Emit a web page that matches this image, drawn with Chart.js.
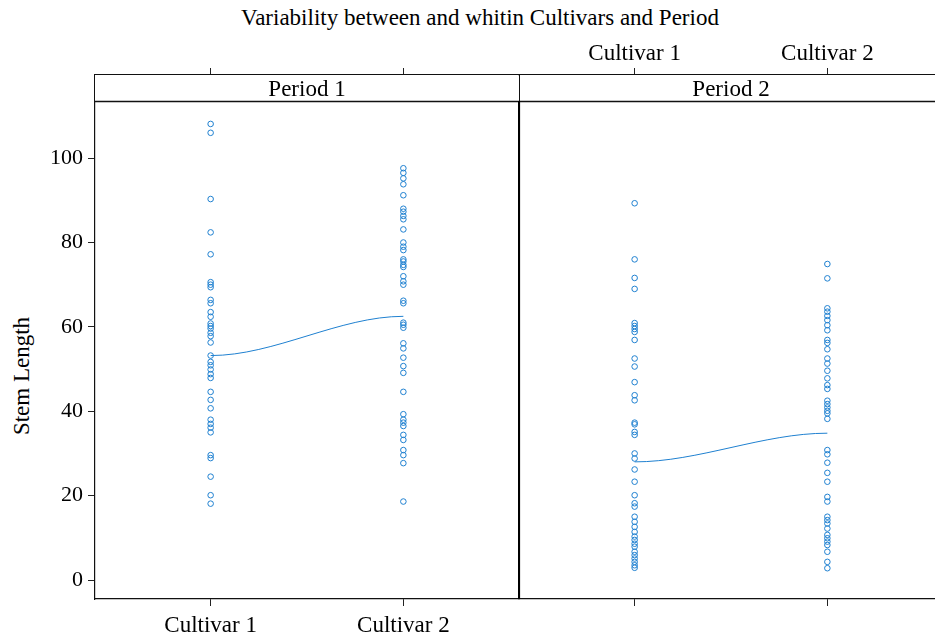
<!DOCTYPE html>
<html>
<head>
<meta charset="utf-8">
<script src="https://cdn.jsdelivr.net/npm/chart.js@4.4.1/dist/chart.umd.min.js"></script>
<style>
  body { margin: 0; overflow: hidden; background: #fff; }
  #wrap { position: relative; width: 935px; height: 636px; overflow: hidden; font-family: "Liberation Serif", serif; color: #000; }
  #title { position: absolute; left: 0; width: 960px; top: 5px; text-align: center; font-size: 23px; }
  #ylab { position: absolute; left: 22px; top: 376px; transform: translate(-50%, -50%) rotate(-90deg); font-size: 23px; white-space: nowrap; }
  #box1 { position: absolute; left: 0; top: 0; width: 520px; height: 636px; }
  #box2 { position: absolute; left: 518px; top: 0; width: 426px; height: 636px; }
</style>
</head>
<body>
<div id="wrap">
  <div id="title">Variability between and whitin Cultivars and Period</div>
  <div id="ylab">Stem Length</div>
  <div id="box1"><canvas id="panel1"></canvas></div>
  <div id="box2"><canvas id="panel2"></canvas></div>
</div>
<script>
// data
const cultivars = ['Cultivar 1', 'Cultivar 2'];
const periods = ['Period 1', 'Period 2'];
const yTicks = [0, 20, 40, 60, 80, 100];

const p1Cultivar1 = [108.1, 106.0, 90.3, 82.4, 77.2, 70.6, 70.0, 69.4, 66.4, 65.6, 63.5, 62.4, 60.8, 60.2, 59.6,
    58.6, 57.8, 56.3, 53.2, 51.7, 50.9, 49.9, 48.8, 47.9, 44.6, 42.7, 40.7, 38.0, 37.0, 36.1, 35.0, 29.6, 28.9,
    24.5, 20.1, 18.1];
const p1Cultivar2 = [97.6, 96.5, 95.2, 93.8, 91.2, 88.0, 87.3, 86.3, 85.5, 83.1, 80.0, 79.0, 78.2, 76.0, 75.5,
    74.7, 74.2, 72.0, 70.8, 70.0, 66.2, 65.6, 61.0, 60.5, 59.8, 56.1, 54.9, 52.7, 50.7, 49.1, 44.6, 39.3, 38.0,
    37.3, 36.5, 34.4, 33.2, 30.8, 29.6, 27.7, 18.6];
const p2Cultivar1 = [89.3, 76.0, 71.6, 69.0, 60.9, 60.2, 59.5, 58.8, 56.9, 52.5, 50.6, 46.9, 43.8, 42.6, 37.3,
    36.9, 35.1, 34.4, 30.0, 28.8, 26.2, 23.3, 20.1, 18.2, 17.4, 15.0, 13.8, 12.6, 11.4, 10.3, 9.5, 8.6, 7.9, 6.7,
    5.9, 5.1, 4.3, 3.5, 2.9];
const p2Cultivar2 = [74.9, 71.5, 64.4, 63.6, 62.6, 61.6, 60.4, 59.2, 56.9, 56.2, 54.7, 52.5, 51.3, 49.6, 47.8,
    46.2, 45.3, 42.5, 41.7, 40.9, 40.1, 39.5, 38.2, 30.8, 29.8, 27.8, 25.4, 23.3, 19.7, 18.6, 15.0, 14.2, 13.4,
    12.2, 10.7, 9.9, 9.1, 8.3, 6.7, 4.3, 2.8];

// smoothed level per cultivar (ends of the blue curve)
const p1Means = [53.2, 62.5];
const p2Means = [28.0, 34.8];

const blue = '#1f80d0';
const font = { family: '"Liberation Serif", serif', size: 23 };
const tickFont = { family: '"Liberation Serif", serif', size: 22 };
const stripHeight = 26;

// strip on top of each panel, curve between the two levels, panel separator
const panelPlugin = {
    id: 'panel',
    beforeDatasetsDraw(chart) {
        const opts = chart.options.plugins.panel;
        const { ctx, chartArea: a } = chart;
        ctx.save();
        ctx.fillStyle = '#fff';
        ctx.fillRect(a.left, a.top, a.right - a.left, stripHeight);
        ctx.strokeStyle = '#111';
        ctx.lineWidth = 1.3;
        ctx.beginPath();
        ctx.moveTo(a.left, a.top + stripHeight + 0.5);
        ctx.lineTo(a.right, a.top + stripHeight + 0.5);
        ctx.stroke();
        ctx.fillStyle = '#000';
        ctx.font = `${font.size}px ${font.family}`;
        ctx.textAlign = 'center';
        ctx.textBaseline = 'middle';
        ctx.fillText(opts.label, (a.left + a.right) / 2, a.top + stripHeight / 2 + 2);
        if (opts.separator) {
            ctx.lineWidth = 1;
            ctx.beginPath();
            ctx.moveTo(a.left + 0.5, a.top);
            ctx.lineTo(a.left + 0.5, a.top + stripHeight);
            ctx.stroke();
            ctx.strokeStyle = '#000';
            ctx.lineWidth = 2.2;
            ctx.beginPath();
            ctx.moveTo(a.left, a.top + stripHeight);
            ctx.lineTo(a.left, a.bottom);
            ctx.stroke();
        }
        ctx.restore();
    },
    afterDatasetsDraw(chart) {
        const pts = chart.getDatasetMeta(2).data;
        if (pts.length < 2) return;
        const ctx = chart.ctx;
        const p0 = pts[0], p1 = pts[1];
        const dx = (p1.x - p0.x) / 3;
        ctx.save();
        ctx.strokeStyle = blue;
        ctx.lineWidth = 1;
        ctx.beginPath();
        ctx.moveTo(p0.x, p0.y);
        ctx.bezierCurveTo(p0.x + dx, p0.y, p1.x - dx, p1.y, p1.x, p1.y);
        ctx.stroke();
        ctx.restore();
    }
};

function xAxis(position, showLabels, height) {
    return {
        type: 'linear',
        position: position,
        min: 0.4,
        max: 2.6,
        afterBuildTicks: axis => { axis.ticks = cultivars.map((c, i) => ({ value: i + 1 })); },
        afterFit: axis => { axis.height = height; },
        ticks: {
            display: showLabels,
            callback: v => cultivars[v - 1],
            font: font,
            color: '#000',
            padding: position === 'bottom' ? 6 : 0,
            maxRotation: 0,
            autoSkip: false
        },
        grid: { drawOnChartArea: false, drawTicks: true, tickLength: 7, color: '#222' },
        border: { display: true, color: '#111', width: 1.2 }
    };
}

function makePanel(canvasId, label, c1, c2, means, first) {
    const pointStyle = {
        type: 'scatter',
        pointStyle: 'circle',
        pointRadius: 2.8,
        borderColor: blue,
        backgroundColor: 'rgba(0,0,0,0)',
        borderWidth: 1
    };
    return new Chart(document.getElementById(canvasId), {
        type: 'scatter',
        data: {
            datasets: [
                { ...pointStyle, label: cultivars[0], data: c1.map(v => ({ x: 1, y: v })) },
                { ...pointStyle, label: cultivars[1], data: c2.map(v => ({ x: 2, y: v })) },
                {
                    type: 'line', label: 'level', showLine: false, pointRadius: 0,
                    data: means.map((v, i) => ({ x: i + 1, y: v }))
                }
            ]
        },
        options: {
            responsive: true,
            maintainAspectRatio: false,
            animation: false,
            layout: { autoPadding: false, padding: { left: 0, right: 1, top: 0, bottom: 0 } },
            plugins: {
                legend: { display: false },
                tooltip: { enabled: false },
                panel: { label: label, separator: !first }
            },
            scales: {
                x: xAxis('bottom', first, 37),
                xTop: xAxis('top', !first, 75),
                y: {
                    min: -4.5,
                    max: 119.7,
                    afterBuildTicks: axis => { axis.ticks = yTicks.map(v => ({ value: v })); },
                    afterFit: axis => { axis.width = first ? 95 : 1; },
                    ticks: { display: first, font: tickFont, color: '#000', padding: 5 },
                    grid: { drawOnChartArea: false, drawTicks: first, tickLength: 7, color: '#222' },
                    border: { display: first, color: '#111', width: 1.2 }
                }
            }
        },
        plugins: [panelPlugin]
    });
}

makePanel('panel1', periods[0], p1Cultivar1, p1Cultivar2, p1Means, true);
makePanel('panel2', periods[1], p2Cultivar1, p2Cultivar2, p2Means, false);
</script>
</body>
</html>
